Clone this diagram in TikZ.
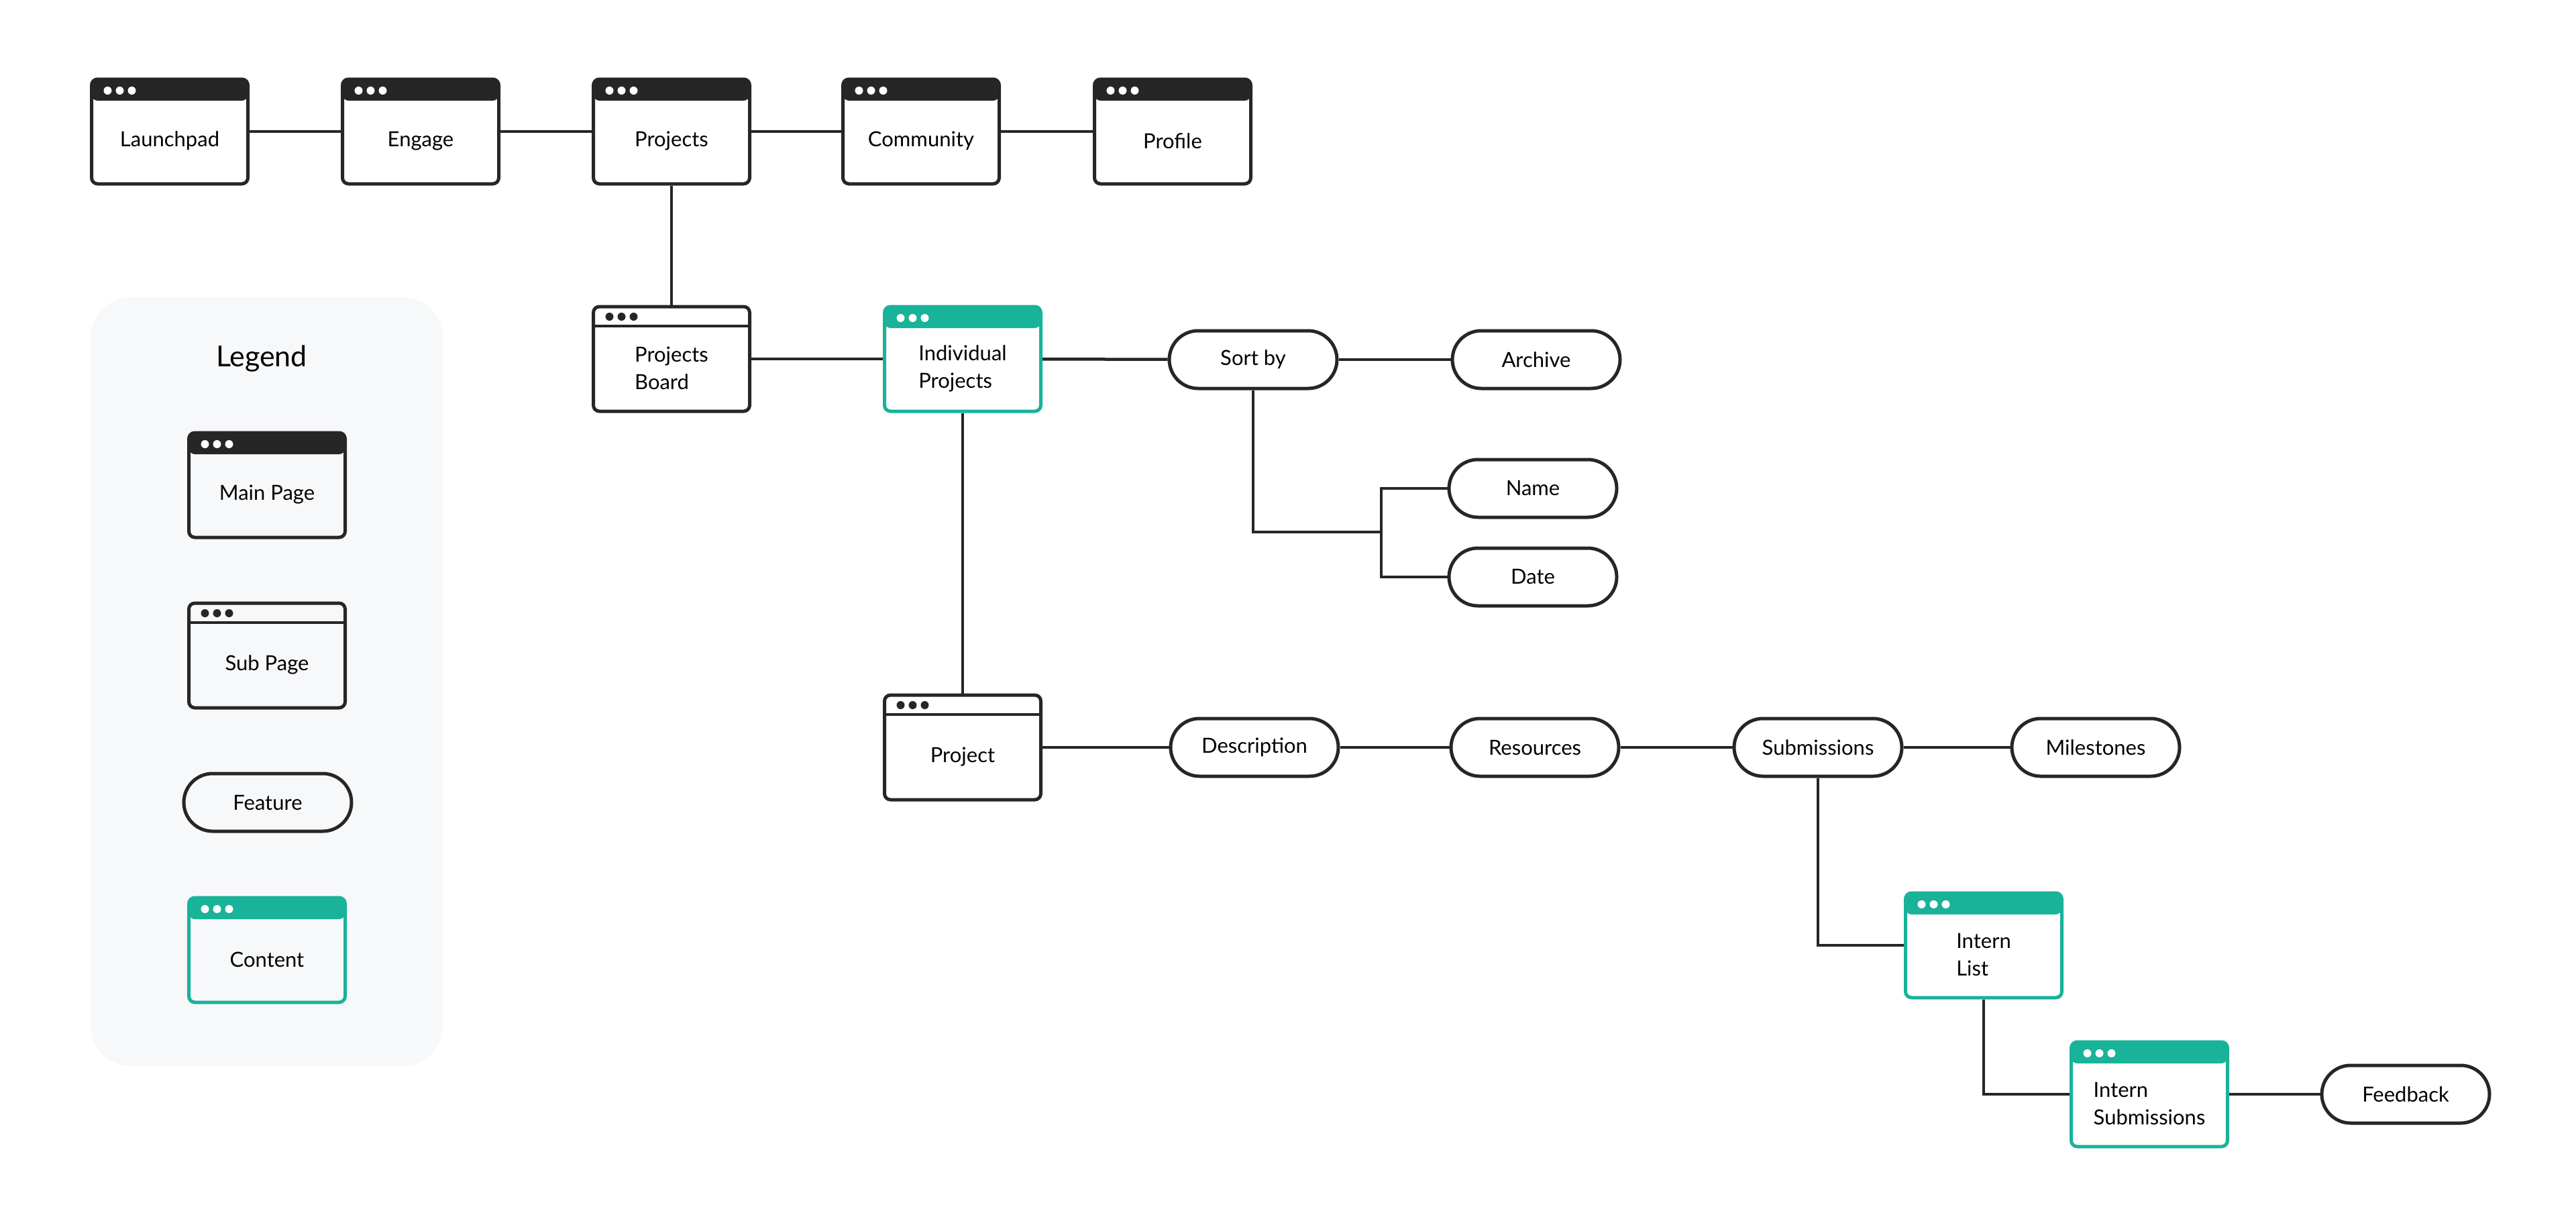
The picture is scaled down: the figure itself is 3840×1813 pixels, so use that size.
\documentclass[tikz,border=0pt]{standalone}
\usepackage{fontspec}
\setmainfont{Lato}
\definecolor{ink}{HTML}{262626}
\definecolor{mint}{HTML}{18B399}
\definecolor{legbg}{HTML}{F7F8FA}
\newcommand{\pagefont}{\fontsize{31}{41}\selectfont}

\begin{document}
\begin{tikzpicture}[
    x			= 1pt,
    y			= -1pt,
    box/.style		= {minimum width=233pt, minimum height=156pt, inner sep=0pt,
			   rounded corners=9pt, line width=5pt, fill=white},
    mainpage/.style	= {box, draw=ink, path picture={
			   \fill[ink] (path picture bounding box.north west) rectangle
			     ([yshift=-32pt]path picture bounding box.north east);
			   \foreach \i in {0,1,2}
			     \fill[white] ([xshift={24pt+18pt*\i}, yshift=-17pt]path picture bounding box.north west) circle (6pt);}},
    subpage/.style	= {box, draw=ink, path picture={
			   \draw[ink, line width=4pt] ([yshift=-29pt]path picture bounding box.north west) --
			     ([yshift=-29pt]path picture bounding box.north east);
			   \foreach \i in {0,1,2}
			     \fill[ink] ([xshift={24pt+18pt*\i}, yshift=-15pt]path picture bounding box.north west) circle (6pt);}},
    content/.style	= {box, draw=mint, path picture={
			   \fill[mint] (path picture bounding box.north west) rectangle
			     ([yshift=-32pt]path picture bounding box.north east);
			   \foreach \i in {0,1,2}
			     \fill[white] ([xshift={24pt+18pt*\i}, yshift=-17pt]path picture bounding box.north west) circle (6pt);}},
    feature/.style	= {draw=ink, fill=white, line width=5pt, rounded corners=43pt,
			   minimum width=250pt, minimum height=86pt, inner sep=0pt, font=\pagefont},
    pagetext/.style	= {yshift=-14pt, align=left, font=\pagefont, inner sep=0pt},
    link/.style		= {draw=ink, line width=4.5pt}
  ]
\useasboundingbox (0,0) rectangle (3840,1813);
% legend
\fill[legbg, rounded corners=60pt] (135,443) rectangle (660,1589);
\node[font=\fontsize{43}{50}\selectfont] (legendtitle) at (390,535) {Legend};
\node[mainpage, fill=legbg, label={[pagetext]center:Main Page}] (legmain) at (398,723) {};
\node[subpage, fill=legbg, label={[pagetext]center:Sub Page}] (legsub) at (398,977) {};
\node[feature, fill=legbg] (legfeature) at (399,1196) {Feature};
\node[content, fill=legbg, label={[pagetext]center:Content}] (legcontent) at (398,1416) {};
% top row
\node[mainpage, label={[pagetext]center:Launchpad}] (launchpad) at (253,196) {};
\node[mainpage, label={[pagetext]center:Engage}] (engage) at (627,196) {};
\node[mainpage, label={[pagetext]center:Projects}] (projects) at (1001,196) {};
\node[mainpage, label={[pagetext]center:Community}] (community) at (1373,196) {};
\node[mainpage, label={[pagetext]center:Profile}] (profile) at (1748,196) {};
% projects branch
\node[subpage, label={[pagetext]center:Projects\\Board}] (board) at (1001,535) {};
\node[content, label={[pagetext]center:Individual\\Projects}] (individual) at (1435,535) {};
\node[feature] (sortby) at (1868,536) {Sort by};
\node[feature] (archive) at (2290,536) {Archive};
\node[feature] (name) at (2285,728) {Name};
\node[feature] (date) at (2285,860) {Date};
\coordinate (sortjoin) at (2059,793);
% project row
\node[subpage, label={[pagetext]center:Project}] (project) at (1435,1114) {};
\node[feature] (description) at (1870,1114) {Description};
\node[feature] (resources) at (2288,1114) {Resources};
\node[feature] (submissions) at (2710,1114) {Submissions};
\node[feature] (milestones) at (3124,1114) {Milestones};
\node[content, label={[pagetext]center:Intern\\List}] (internlist) at (2957,1409) {};
\node[content, label={[pagetext]center:Intern\\Submissions}] (internsub) at (3204,1631) {};
\node[feature] (feedback) at (3586,1631) {Feedback};
% connectors
\draw[link] (launchpad) -- (engage);
\draw[link] (engage) -- (projects);
\draw[link] (projects) -- (community);
\draw[link] (community) -- (profile);
\draw[link] (projects) -- (board);
\draw[link] (board) -- (individual);
\draw[link] (individual) -- (sortby);
\draw[link] (sortby) -- (archive);
\draw[link] (sortby) |- (sortjoin);
\draw[link] (sortjoin) |- (name);
\draw[link] (sortjoin) |- (date);
\draw[link] (individual) -- (project);
\draw[link] (project) -- (description);
\draw[link] (description) -- (resources);
\draw[link] (resources) -- (submissions);
\draw[link] (submissions) -- (milestones);
\draw[link] (submissions) |- (internlist);
\draw[link] (internlist) |- (internsub);
\draw[link] (internsub) -- (feedback);
%
\end{tikzpicture}
\end{document}
